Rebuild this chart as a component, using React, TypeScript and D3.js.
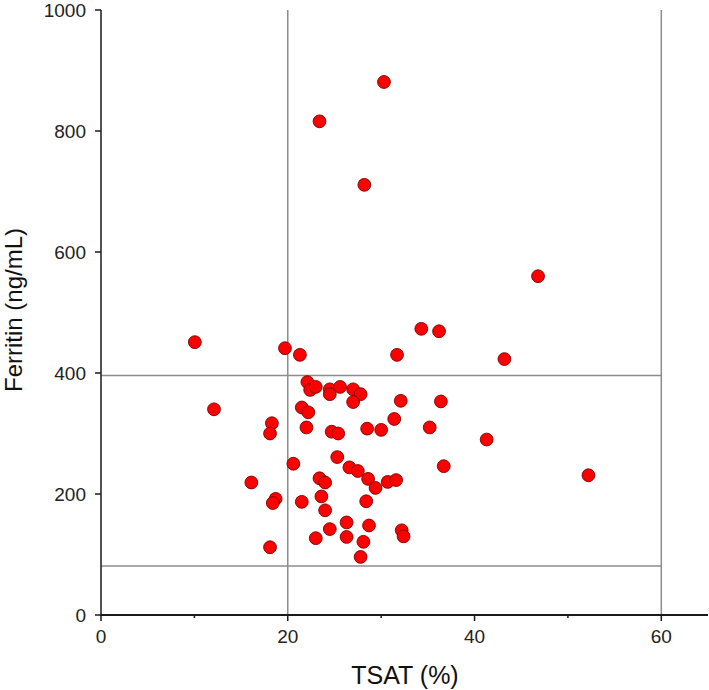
import React from "react";
import * as d3 from "d3";

const tsat: number[] = [
  10.05, 19.7, 21.3, 12.1, 18.3, 18.1, 20.6, 22.1, 22.4, 23.0, 24.5, 24.5, 25.6, 21.5, 22.2, 22.0,
  24.7, 25.4, 25.3, 34.3, 36.2, 31.7, 27.0, 27.8, 27.0, 32.1, 36.4, 28.5, 30.0, 31.4, 35.2, 26.6,
  27.5, 36.7, 16.1, 18.7, 18.4, 18.1, 21.5, 23.4, 24.0, 23.6, 24.0, 24.5, 23.0, 28.6, 29.4, 30.7,
  31.6, 28.4, 26.3, 28.7, 26.3, 28.1, 27.8, 32.2, 32.4, 52.2, 46.8, 43.2, 41.3, 30.3, 23.4, 28.2,
];
const ferritin: number[] = [
  451, 441, 430, 340, 317, 300, 250, 385, 372, 377, 373, 365, 377, 343, 335, 310,
  303, 300, 261, 473, 469, 430, 373, 365, 352, 354, 353, 308, 306, 324, 310, 244,
  238, 246, 219, 192, 185, 112, 187, 226, 219, 196, 173, 142, 127, 225, 210, 220,
  223, 188, 153, 148, 129, 121, 96, 140, 130, 231, 560, 423, 290, 881, 816, 711,
];
const xMajorTicks: number[] = [0, 20, 40, 60];
const xMinorTicks: number[] = [10, 30, 50];
const yTicks: number[] = [0, 200, 400, 600, 800, 1000];
const refX: number[] = [20, 60];
const refY: number[] = [396, 81];

const W = 709;
const H = 690;
const left = 101;
const top = 10;
const right = 708;
const bottom = 615;

export default function App() {
  const x = d3.scaleLinear().domain([0, 65]).range([left, right]);
  const y = d3.scaleLinear().domain([0, 1000]).range([bottom, top]);
  const font = "'Liberation Sans', Arial, sans-serif";
  const axisColor = "#1a1a1a";
  const refColor = "#8c8c8c";
  return (
    <svg
      width={W}
      height={H}
      style={{ position: "absolute", left: 0, top: 0, background: "#fff" }}
      fontFamily={font}
    >
      {refX.map((v) => (
        <line key={"rx" + v} x1={x(v)} x2={x(v)} y1={y(1000)} y2={y(0)} stroke={refColor} strokeWidth={1.5} />
      ))}
      {refY.map((v) => (
        <line key={"ry" + v} x1={x(0)} x2={x(60)} y1={y(v)} y2={y(v)} stroke={refColor} strokeWidth={1.5} />
      ))}
      <line x1={left} x2={left} y1={top} y2={bottom + 1} stroke={axisColor} strokeWidth={1.5} />
      <line x1={left} x2={right} y1={bottom} y2={bottom} stroke={axisColor} strokeWidth={1.8} />
      {yTicks.map((t) => (
        <g key={"yt" + t}>
          <line x1={left - 6} x2={left} y1={y(t)} y2={y(t)} stroke={axisColor} strokeWidth={1.5} />
          <text x={left - 15} y={y(t)} dy="0.35em" textAnchor="end" fontSize={19} fill="#222">
            {t}
          </text>
        </g>
      ))}
      {xMajorTicks.map((t) => (
        <g key={"xt" + t}>
          <line x1={x(t)} x2={x(t)} y1={bottom} y2={bottom + 6} stroke={axisColor} strokeWidth={1.5} />
          <text x={x(t)} y={643} textAnchor="middle" fontSize={19} fill="#222">
            {t}
          </text>
        </g>
      ))}
      {xMinorTicks.map((t) => (
        <line key={"xm" + t} x1={x(t)} x2={x(t)} y1={bottom} y2={bottom + 3} stroke={axisColor} strokeWidth={1.5} />
      ))}
      {tsat.map((v, i) => (
        <circle
          key={"p" + i}
          cx={x(v)}
          cy={y(ferritin[i])}
          r={6.4}
          fill="#ff0000"
          stroke="#7a0000"
          strokeWidth={0.9}
        />
      ))}
      <text x={405} y={684} textAnchor="middle" fontSize={25} fill="#111">
        TSAT (%)
      </text>
      <text transform={`translate(22, 310) rotate(-90)`} textAnchor="middle" fontSize={24} fill="#111">
        Ferritin (ng/mL)
      </text>
    </svg>
  );
}
